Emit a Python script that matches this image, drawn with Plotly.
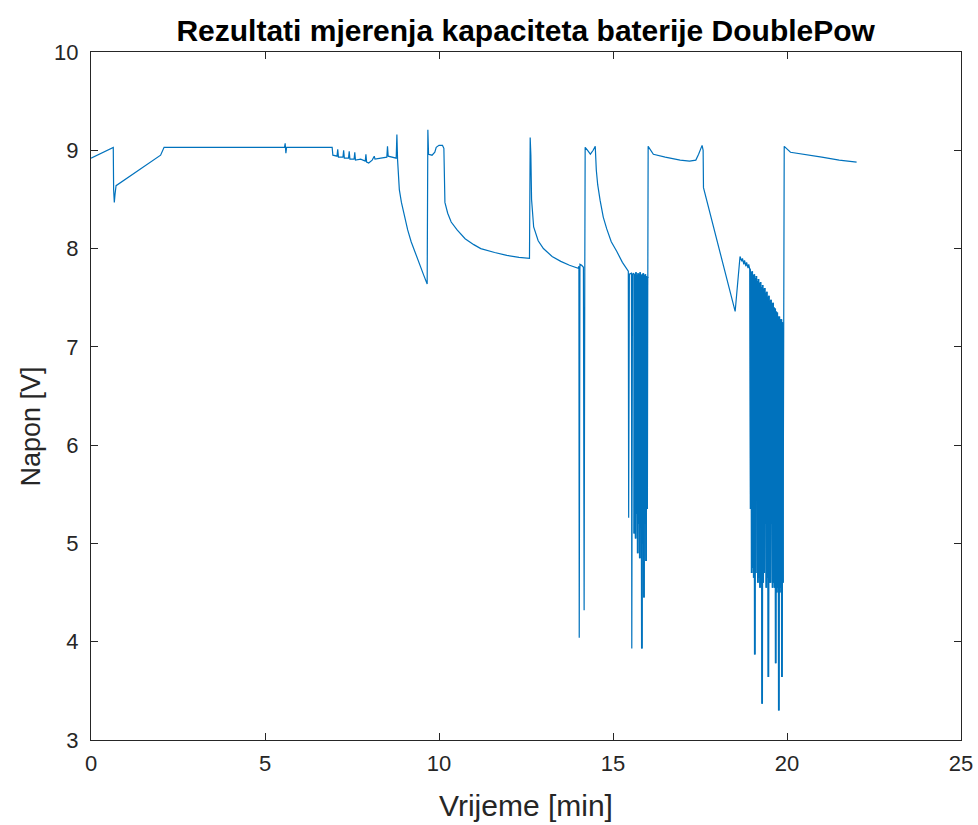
import plotly.graph_objects as go

# ---- data (time [min], voltage [V]) ----
t_start = [0.00, 0.64, 0.65, 0.67, 0.69, 0.72, 2.00, 2.10, 3.00, 4.50, 5.56, 5.58, 5.60, 5.62, 6.93]
v_start = [8.92, 9.03, 8.60, 8.47, 8.55, 8.64, 8.95, 9.03, 9.03, 9.03, 9.03, 9.07, 8.97, 9.03, 9.03]

t_ripple = [6.95, 7.07, 7.09, 7.11, 7.24, 7.26, 7.28, 7.40, 7.42, 7.44, 7.56, 7.58, 7.60, 7.75,
            7.88, 7.90, 7.92, 7.98, 8.08, 8.14, 8.16, 8.35, 8.50, 8.52, 8.54, 8.77, 8.79, 8.81]
v_ripple = [8.95, 8.94, 9.01, 8.93, 8.93, 9.00, 8.92, 8.92, 8.99, 8.91, 8.91, 8.98, 8.90, 8.91,
            8.89, 8.96, 8.88, 8.87, 8.90, 8.94, 8.91, 8.92, 8.93, 9.04, 8.94, 8.92, 9.16, 8.90]

t_disch1 = [8.83, 8.86, 8.92, 9.00, 9.10, 9.20, 9.32, 9.44, 9.56, 9.66, 9.68, 9.70, 9.80, 9.88,
            9.92, 10.00, 10.10, 10.14, 10.15, 10.17, 10.25, 10.35, 10.52, 10.75, 11.00, 11.20,
            11.60, 11.95, 12.30, 12.60]
v_disch1 = [8.75, 8.60, 8.47, 8.33, 8.19, 8.07, 7.95, 7.84, 7.73, 7.64, 9.21, 8.96, 8.95, 8.98,
            9.03, 9.05, 9.05, 9.02, 8.60, 8.47, 8.36, 8.27, 8.19, 8.10, 8.04, 8.00,
            7.96, 7.93, 7.91, 7.90]

t_disch2 = [12.62, 12.64, 12.66, 12.72, 12.85, 13.00, 13.25, 13.50, 13.75, 14.00, 14.02, 14.03,
            14.05, 14.10, 14.15, 14.17, 14.19, 14.20, 14.27, 14.35, 14.43, 14.49, 14.52, 14.56,
            14.63, 14.72, 14.82, 14.95, 15.11, 15.27, 15.44]
v_disch2 = [9.13, 8.95, 8.50, 8.22, 8.08, 8.00, 7.92, 7.87, 7.83, 7.80, 7.82, 4.04,
            7.84, 7.83, 7.81, 4.32, 7.85, 9.03, 9.00, 8.96, 9.00, 9.04, 8.80, 8.65,
            8.49, 8.32, 8.20, 8.07, 7.97, 7.86, 7.77]

t_burst1 = [15.45, 15.47, 15.53, 15.54, 15.56, 15.60, 15.61, 15.63, 15.64, 15.65, 15.66, 15.67,
            15.68, 15.69, 15.70, 15.71, 15.72, 15.73, 15.74, 15.75, 15.76, 15.77, 15.78, 15.79,
            15.80, 15.81, 15.82, 15.83, 15.84, 15.85, 15.86, 15.87, 15.88, 15.89, 15.90, 15.91,
            15.92, 15.93, 15.94, 15.95, 15.96, 15.97, 15.98, 15.99, 16.00]
v_burst1 = [5.26, 7.74, 7.75, 3.93, 7.74, 7.75, 5.10, 7.74, 5.40, 5.05, 7.76, 5.45,
            5.30, 7.73, 5.50, 4.90, 7.75, 5.40, 5.20, 7.74, 5.45, 4.85, 7.76, 5.35,
            5.30, 7.73, 5.40, 3.93, 7.74, 5.30, 5.00, 7.75, 5.45, 4.45, 7.73, 5.40,
            5.20, 7.74, 5.35, 4.82, 7.72, 5.40, 5.35, 7.71, 7.70]

t_rest = [16.01, 16.16, 16.50, 16.93, 17.20, 17.38, 17.46, 17.52, 17.56, 17.59, 17.60, 18.51,
          18.65, 18.70, 18.72, 18.76, 18.78, 18.82, 18.84, 18.88, 18.90, 18.93]
v_rest = [9.04, 8.96, 8.93, 8.90, 8.89, 8.90, 8.96, 9.02, 9.05, 9.00, 8.62, 7.36,
          7.92, 7.87, 7.90, 7.84, 7.88, 7.82, 7.86, 7.80, 7.84, 7.79]

# final burst: upper (envelope) and lower (spike tips) readings
t_burst2_hi = [18.94, 18.97, 19.00, 19.03, 19.06, 19.09, 19.12, 19.15, 19.18, 19.21, 19.24,
               19.27, 19.30, 19.33, 19.36, 19.39, 19.42, 19.45, 19.48, 19.51, 19.54, 19.57,
               19.60, 19.63, 19.66, 19.69, 19.72, 19.75, 19.78, 19.81, 19.84, 19.87]
v_burst2_hi = [7.79, 7.76, 7.77, 7.73, 7.74, 7.70, 7.72, 7.67, 7.69, 7.65, 7.66, 7.61, 7.63,
               7.59, 7.60, 7.55, 7.56, 7.51, 7.52, 7.47, 7.48, 7.44, 7.45, 7.40, 7.39, 7.36,
               7.35, 7.31, 7.31, 7.28, 7.28, 7.25]
t_burst2_lo = [18.955, 18.985, 19.015, 19.045, 19.075, 19.105, 19.135, 19.165, 19.195, 19.225,
               19.255, 19.285, 19.315, 19.345, 19.375, 19.405, 19.435, 19.465, 19.495, 19.525,
               19.555, 19.585, 19.615, 19.645, 19.675, 19.705, 19.735, 19.765, 19.795, 19.825,
               19.855, 19.885]
v_burst2_lo = [5.35, 4.70, 4.75, 4.65, 3.87, 4.70, 5.50, 4.60, 4.65, 4.55, 4.60, 3.37, 4.60,
               4.70, 5.20, 4.55, 4.65, 3.64, 4.60, 4.60, 5.20, 4.55, 4.60, 4.55, 3.78, 4.50,
               4.55, 3.30, 4.50, 4.55, 3.64, 4.60]

t_end = [19.90, 19.92, 20.10, 20.50, 21.00, 21.50, 22.00]
v_end = [7.23, 9.04, 8.98, 8.96, 8.93, 8.90, 8.88]

# ---- assemble the single measured trace ----
t_b2, v_b2 = [], []
for th, vh, tl, vl in zip(t_burst2_hi, v_burst2_hi, t_burst2_lo, v_burst2_lo):
    t_b2 += [th, tl]
    v_b2 += [vh, vl]

t_all = t_start + t_ripple + t_disch1 + t_disch2 + t_burst1 + t_rest + t_b2 + t_end
v_all = v_start + v_ripple + v_disch1 + v_disch2 + v_burst1 + v_rest + v_b2 + v_end

FONT = "Liberation Sans, Arial, Helvetica, sans-serif"
AX = "#262626"
BLUE = "#0072BD"

fig = go.Figure()
fig.add_trace(go.Scatter(x=t_all, y=v_all, mode="lines",
                         line=dict(color=BLUE, width=1.2),
                         showlegend=False, hoverinfo="x+y"))
# the densely sampled bursts render as a solid band in the reference
fig.add_trace(go.Scatter(x=t_burst1[6:], y=v_burst1[6:], mode="lines",
                         line=dict(color=BLUE, width=1.8),
                         showlegend=False, hoverinfo="skip"))
fig.add_trace(go.Scatter(x=t_b2, y=v_b2, mode="lines",
                         line=dict(color=BLUE, width=1.8),
                         showlegend=False, hoverinfo="skip"))

axis_common = dict(showline=True, mirror="ticks", linecolor=AX, linewidth=1,
                   ticks="inside", ticklen=7, tickcolor=AX, tickwidth=1,
                   showgrid=False, zeroline=False, automargin=False,
                   tickfont=dict(family=FONT, size=22, color=AX))

fig.update_xaxes(range=[0, 25], tickvals=[0, 5, 10, 15, 20, 25],
                 ticklabelstandoff=4, **axis_common)
fig.update_yaxes(range=[3, 10], tickvals=[3, 4, 5, 6, 7, 8, 9, 10],
                 ticklabelstandoff=7, **axis_common)

fig.update_layout(
    width=978, height=825,
    margin=dict(l=91, r=17, t=52, b=85, autoexpand=False),
    paper_bgcolor="white", plot_bgcolor="white",
    title=dict(text="<b>Rezultati mjerenja kapaciteta baterije DoublePow</b>",
               x=0.5375, xanchor="center", y=1 - 30 / 825, yanchor="middle",
               font=dict(family=FONT, size=30, color="black")),
    annotations=[
        dict(text="Vrijeme [min]", xref="paper", yref="paper", x=0.5, y=-0.0945,
             xanchor="center", yanchor="middle", showarrow=False,
             font=dict(family=FONT, size=30, color=AX)),
        dict(text="Napon [V]", xref="paper", yref="paper", x=-0.0695, y=0.455,
             xanchor="center", yanchor="middle", textangle=-90, showarrow=False,
             font=dict(family=FONT, size=27, color=AX)),
    ],
)

fig.write_html("out.html", config={"displayModeBar": False},
               post_script="document.body.style.margin='0';document.body.style.overflow='hidden';")
